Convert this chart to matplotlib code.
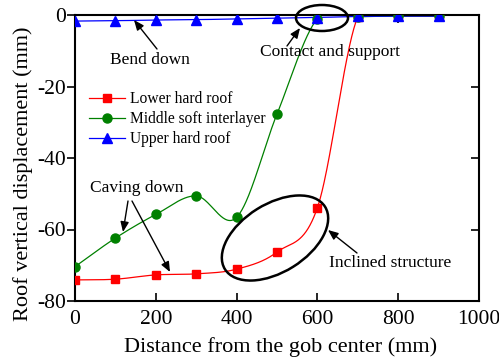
import numpy as np
import matplotlib
matplotlib.use("Agg")
import matplotlib.pyplot as plt
from matplotlib.patches import Ellipse
from matplotlib.transforms import IdentityTransform
from matplotlib.lines import TICKLEFT

plt.rcParams['font.family'] = ['Liberation Serif', 'DejaVu Serif']
plt.rcParams['axes.unicode_minus'] = False

# ---- data ----
distance = [0, 100, 200, 300, 400, 500, 600, 700, 800, 900]
lower_hard_roof = [-74.1, -73.9, -72.7, -72.4, -71.1, -66.3, -53.9, -0.5, -0.3, -0.3]
middle_soft = [-70.4, -62.4, -55.8, -50.6, -56.6, -27.7, -1.0, -0.5, -0.3, -0.3]
upper_hard_roof = [-1.7, -1.6, -1.4, -1.3, -1.1, -0.9, -0.7, -0.4, -0.3, -0.3]

series_names = ["Lower hard roof", "Middle soft interlayer", "Upper hard roof"]
xticks = [0, 200, 400, 600, 800, 1000]
yticks = [-80, -60, -40, -20, 0]


def smooth_curve(x, y, per_seg=60):
    """Cubic Hermite (Catmull-Rom style) smoothing through the given points."""
    x = np.asarray(x, float); y = np.asarray(y, float)
    m = len(x)
    tang = np.zeros(m)
    tang[0] = (y[1] - y[0]) / (x[1] - x[0])
    tang[-1] = (y[-1] - y[-2]) / (x[-1] - x[-2])
    for i in range(1, m - 1):
        tang[i] = (y[i + 1] - y[i - 1]) / (x[i + 1] - x[i - 1])
    xs_all, ys_all = [], []
    for i in range(m - 1):
        h = x[i + 1] - x[i]
        t = np.linspace(0, 1, per_seg, endpoint=(i == m - 2))
        h00 = 2 * t**3 - 3 * t**2 + 1
        h10 = t**3 - 2 * t**2 + t
        h01 = -2 * t**3 + 3 * t**2
        h11 = t**3 - t**2
        xs_all.append(x[i] + t * h)
        ys_all.append(h00 * y[i] + h10 * h * tang[i] + h01 * y[i + 1] + h11 * h * tang[i + 1])
    return np.concatenate(xs_all), np.concatenate(ys_all)


W, H = 499, 364
fig = plt.figure(figsize=(W / 100, H / 100), dpi=100)
L, R, T, B = 75, 479, 15, 301
ax = fig.add_axes([L / W, 1 - B / H, (R - L) / W, (B - T) / H])

styles = [
    (lower_hard_roof, 'red', 's', 5.5),
    (middle_soft, 'green', 'o', 6.5),
    (upper_hard_roof, 'blue', '^', 6.5),
]
handles = []
for (vals, col, mk, ms), name in zip(styles, series_names):
    xs, ys = smooth_curve(distance, vals)
    ax.plot(xs, ys, color=col, lw=0.9, zorder=2)
    ax.plot(distance, vals, ls='none', marker=mk, color=col, ms=ms, zorder=3)
    h, = ax.plot([], [], color=col, lw=0.9, marker=mk, ms=ms)
    handles.append(h)

ax.set_xlim(0, 1000)
ax.set_ylim(-80, 0)
ax.set_xticks(xticks)
ax.set_yticks(yticks)
ax.tick_params(axis='both', labelsize=15.5, width=1.2, length=5.5)
ax.tick_params(axis='y', direction='out', right=True, pad=1)
ax.tick_params(axis='x', direction='in', top=True, pad=6.5)
for tl in ax.yaxis.get_major_ticks():
    tl.tick2line.set_marker(TICKLEFT)
for s in ax.spines.values():
    s.set_linewidth(1.5)

ax.set_xlabel("Distance from the gob center (mm)", fontsize=16)
ax.set_ylabel("Roof vertical displacement (mm)", fontsize=16)
ax.xaxis.set_label_coords(0.509, -0.126)
ax.yaxis.set_label_coords(-0.104, 0.446)

leg = ax.legend(handles, series_names, loc='upper left', bbox_to_anchor=(0.02, 0.755),
                frameon=False, fontsize=11.2, handlelength=2.3, handletextpad=0.3,
                labelspacing=0.25, borderaxespad=0)

def fp(px, py):
    return (px, H - py)

akw = dict(arrowstyle='-|>,head_length=0.6,head_width=0.25', color='black', lw=1.0,
           shrinkA=0, shrinkB=0)

fig.text(150 / W, 1 - 60 / H, "Bend down", fontsize=12.5, ha='center', va='center')
ax.annotate("", xy=fp(134, 20), xycoords='figure pixels', xytext=fp(157, 49),
            textcoords='figure pixels', arrowprops=akw, annotation_clip=False)

fig.text(330 / W, 1 - 52 / H, "Contact and support", fontsize=12.5, ha='center', va='center')
ax.annotate("", xy=fp(300, 28), xycoords='figure pixels', xytext=fp(287, 46),
            textcoords='figure pixels', arrowprops=akw, annotation_clip=False)

fig.text(137 / W, 1 - 188 / H, "Caving down", fontsize=12.5, ha='center', va='center')
ax.annotate("", xy=fp(123, 232), xycoords='figure pixels', xytext=fp(128, 201),
            textcoords='figure pixels', arrowprops=akw, annotation_clip=False)
ax.annotate("", xy=fp(170, 272), xycoords='figure pixels', xytext=fp(132, 201),
            textcoords='figure pixels', arrowprops=akw, annotation_clip=False)

fig.text(390 / W, 1 - 263 / H, "Inclined structure", fontsize=12.5, ha='center', va='center')
ax.annotate("", xy=fp(328, 230), xycoords='figure pixels', xytext=fp(357, 253),
            textcoords='figure pixels', arrowprops=akw, annotation_clip=False)

fig.add_artist(Ellipse((322, H - 18), 52, 26, angle=0, fill=False, ec='black', lw=1.8,
                       transform=IdentityTransform(), zorder=5))
fig.add_artist(Ellipse((275, H - 238), 118, 68, angle=32, fill=False, ec='black', lw=1.8,
                       transform=IdentityTransform(), zorder=5))

fig.savefig("out.png", dpi=100)
